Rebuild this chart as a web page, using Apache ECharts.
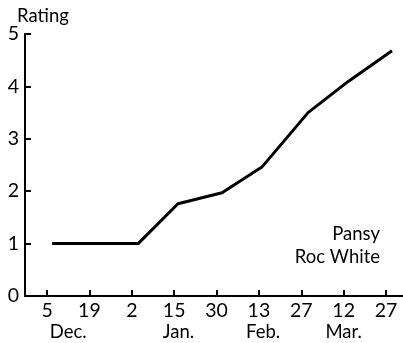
<!DOCTYPE html>
<html>
<head>
<meta charset="utf-8">
<script src="https://cdn.jsdelivr.net/npm/echarts@6/dist/echarts.min.js"></script>
<style>html,body{margin:0;padding:0;background:#fff}#c{width:403px;height:343px}</style>
</head>
<body>
<div id="c"></div>
<script>
// Tick labels along the date axis (index positions 0..8)
const dayLabels = ['5', '19', '2', '15', '30', '13', '27', '12', '27'];
const dayPos = [0, 1, 2, 3, 4, 5, 6, 7, 8];
// Month labels and their positions on the date axis
const monthLabels = ['Dec.', 'Jan.', 'Feb.', 'Mar.'];
const monthPos = [0.5, 3.1, 5.1, 7.0];
// Observation positions (in date-axis index units) and ratings
const obsPos = [0.12, 2.15, 3.09, 4.13, 5.07, 6.16, 7.1, 8.14];
const ratings = [1, 1, 1.76, 1.97, 2.46, 3.5, 4.09, 4.68];
const yTicks = [0, 1, 2, 3, 4, 5];

const FONT = 'Lato';
const chart = echarts.init(document.getElementById('c'), null, {renderer: 'canvas'});
chart.setOption({
  animation: false,
  backgroundColor: '#fff',
  title: {
    text: 'Rating', left: 12, top: 2,
    textStyle: {fontFamily: FONT, fontSize: 18.5, fontWeight: 'normal', color: '#000'}
  },
  graphic: [{
    type: 'text', right: 23, top: 223,
    style: {text: 'Pansy\nRoc White', textAlign: 'right', fontFamily: FONT, fontSize: 18.5, lineHeight: 23, fill: '#000'}
  }],
  grid: {left: 25, right: 0, top: 34, bottom: 47, containLabel: false},
  xAxis: [{
    type: 'value', min: -0.52, max: 8.4,
    axisLine: {show: true, onZero: false, lineStyle: {color: '#000', width: 2}},
    axisTick: {show: true, inside: true, length: 6, lineStyle: {color: '#000', width: 2}, customValues: dayPos},
    axisLabel: {show: true, color: '#000', fontFamily: FONT, fontSize: 19.5, margin: 5,
      customValues: dayPos, formatter: v => dayLabels[Math.round(v)]},
    splitLine: {show: false}
  }, {
    type: 'value', min: -0.52, max: 8.4, position: 'bottom',
    axisLine: {show: false}, axisTick: {show: false},
    axisLabel: {show: true, color: '#000', fontFamily: FONT, fontSize: 18.5, margin: 27,
      customValues: monthPos, formatter: v => monthLabels[monthPos.indexOf(v)]},
    splitLine: {show: false}
  }],
  yAxis: {
    type: 'value', min: 0, max: 5, interval: 1,
    axisLine: {show: true, onZero: false, lineStyle: {color: '#000', width: 2}},
    axisTick: {show: true, inside: true, length: 6, lineStyle: {color: '#000', width: 2}, customValues: yTicks},
    axisLabel: {color: '#000', fontFamily: FONT, fontSize: 19.5, margin: 6, customValues: yTicks},
    splitLine: {show: false}
  },
  series: [{
    type: 'line', xAxisIndex: 0,
    data: obsPos.map((x, i) => [x, ratings[i]]),
    symbol: 'none',
    lineStyle: {color: '#000', width: 3, join: 'round'}
  }]
});
</script>
</body>
</html>
